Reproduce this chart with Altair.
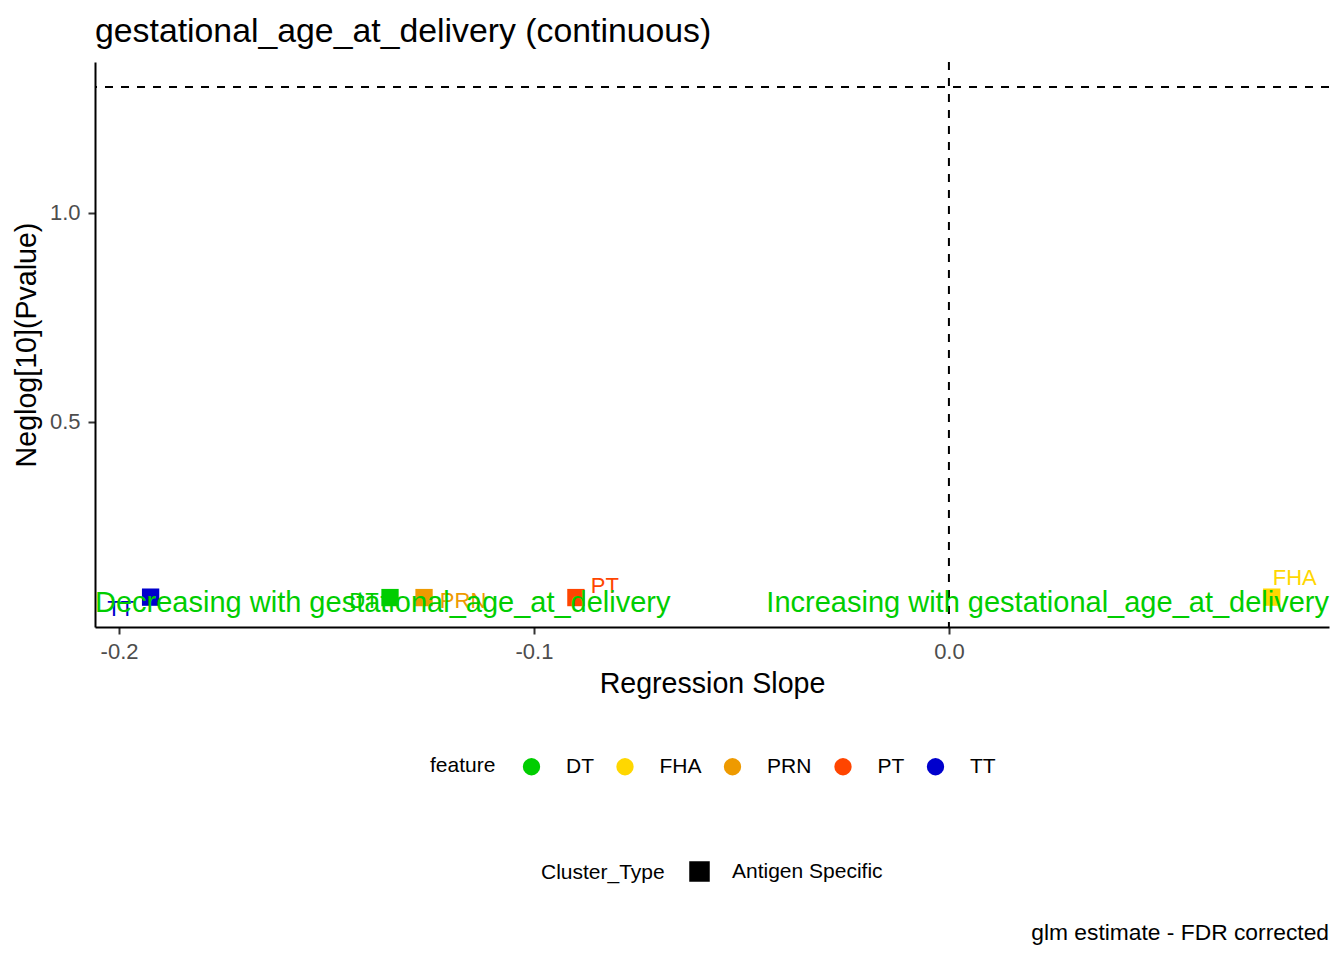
import altair as alt
import pandas as pd

# ---- data ----
features = ["DT", "FHA", "PRN", "PT", "TT"]
slopes = [-0.1347, 0.0778, -0.1265, -0.0899, -0.1924]
neglogp = [0.080, 0.081, 0.080, 0.080, 0.081]
cluster_type = ["Antigen Specific"] * 5
colors = ["#00CD00", "#FFD700", "#EE9A00", "#FF4500", "#0000CD"]

x_domain = [-0.2058, 0.0916]
y_domain = [0.0096, 1.361]
sig_line = 1.30103
annot_y = 0.066
annot_left = "Decreasing with gestational_age_at_delivery"
annot_right = "Increasing with gestational_age_at_delivery"
title_text = "gestational_age_at_delivery (continuous)"
caption_text = "glm estimate - FDR corrected"

df = pd.DataFrame({"feature": features, "slope": slopes, "neglogp": neglogp,
                   "Cluster_Type": cluster_type})

FONT = "Liberation Sans"
W, H = 1234, 565

xs = alt.Scale(domain=x_domain, nice=False, zero=False)
ys = alt.Scale(domain=y_domain, nice=False, zero=False)
cs = alt.Scale(domain=features, range=colors)

base = alt.Chart(df)

xenc = alt.X("slope:Q", scale=xs, title="Regression Slope",
             axis=alt.Axis(values=[-0.2, -0.1, 0.0],
                           labelExpr="replace(format(datum.value, '.1f'), '\u2212', '-')",
                           grid=False))
yenc = alt.Y("neglogp:Q", scale=ys, title="Neglog[10](Pvalue)",
             axis=alt.Axis(values=[0.5, 1.0], format=".1f", grid=False))

hline = alt.Chart(pd.DataFrame({"y": [sig_line]})).mark_rule(
    color="black", strokeDash=[8, 8], strokeWidth=2).encode(y=alt.Y("y:Q", scale=ys))
vline = alt.Chart(pd.DataFrame({"x": [0.0]})).mark_rule(
    color="black", strokeDash=[8, 8], strokeWidth=2).encode(x=alt.X("x:Q", scale=xs))

points = base.mark_point(filled=True, opacity=1, size=300).encode(
    x=xenc, y=yenc,
    color=alt.Color("feature:N", scale=cs, title="feature",
                    legend=alt.Legend(orient="none", direction="horizontal",
                                      legendX=335, legendY=694, titleOrient="left",
                                      symbolType="circle", symbolSize=300,
                                      symbolOpacity=1, labelOffset=24,
                                      columnPadding=20.5, titlePadding=25,
                                      padding=0)),
    shape=alt.Shape("Cluster_Type:N", scale=alt.Scale(range=["square"]),
                    title="Cluster_Type",
                    legend=alt.Legend(orient="none", direction="horizontal",
                                      legendX=446, legendY=799, titleOrient="left",
                                      symbolSize=361, symbolFillColor="black",
                                      symbolStrokeColor="black", symbolOpacity=1,
                                      labelOffset=22, titlePadding=24, padding=0)),
)

label_offsets = {"TT": (-30, 12), "DT": (-26, 3), "PRN": (39, 3), "PT": (29, -12), "FHA": (23, -19)}
labels = []
for f in features:
    dx, dy = label_offsets[f]
    labels.append(
        base.transform_filter(alt.datum.feature == f).mark_text(
            font=FONT, fontSize=22, dx=dx, dy=dy, baseline="middle", align="center").encode(
            x=alt.X("slope:Q", scale=xs), y=alt.Y("neglogp:Q", scale=ys),
            text="feature:N",
            color=alt.Color("feature:N", scale=cs, legend=None))
    )

left_txt = alt.Chart(pd.DataFrame({"x": [x_domain[0]], "y": [annot_y], "t": [annot_left]})).mark_text(
    font=FONT, fontSize=29.0, color="#00CD00", align="left", baseline="middle").encode(
    x=alt.X("x:Q", scale=xs), y=alt.Y("y:Q", scale=ys), text="t:N")
right_txt = alt.Chart(pd.DataFrame({"x": [x_domain[1]], "y": [annot_y], "t": [annot_right]})).mark_text(
    font=FONT, fontSize=29.0, color="#00CD00", align="right", baseline="middle").encode(
    x=alt.X("x:Q", scale=xs), y=alt.Y("y:Q", scale=ys), text="t:N")

caption = alt.Chart(pd.DataFrame({"x": [x_domain[1]], "t": [caption_text]})).mark_text(
    font=FONT, fontSize=22.8, color="black", align="right", baseline="middle").encode(
    x=alt.X("x:Q", scale=xs), y=alt.value(871), text="t:N")

chart = alt.layer(hline, vline, points, *labels, left_txt, right_txt, caption).properties(
    width=W, height=H,
    autosize=alt.AutoSizeParams(type="none"),
    padding={"left": 87, "top": 54, "right": 7, "bottom": 325},
    title=alt.TitleParams(title_text, anchor="start", frame="group", fontSize=33.8,
                          font=FONT, fontWeight="normal", color="black", offset=12),
).configure_view(stroke=None).configure_axis(
    domainColor="black", domainWidth=2, tickColor="#333333", tickWidth=2, tickSize=7,
    labelFont=FONT, labelFontSize=22, labelColor="#4D4D4D",
    titleFont=FONT, titleFontSize=28.6, titleColor="black", titleFontWeight="normal",
).configure_axisX(labelPadding=7, titlePadding=7).configure_axisY(
    labelPadding=8, titlePadding=8).configure_legend(
    labelFont=FONT, labelFontSize=21, labelColor="black",
    titleFont=FONT, titleFontSize=21, titleColor="black", titleFontWeight="normal",
)

chart.save("out.html", embed_options={"renderer": "svg", "actions": False})
